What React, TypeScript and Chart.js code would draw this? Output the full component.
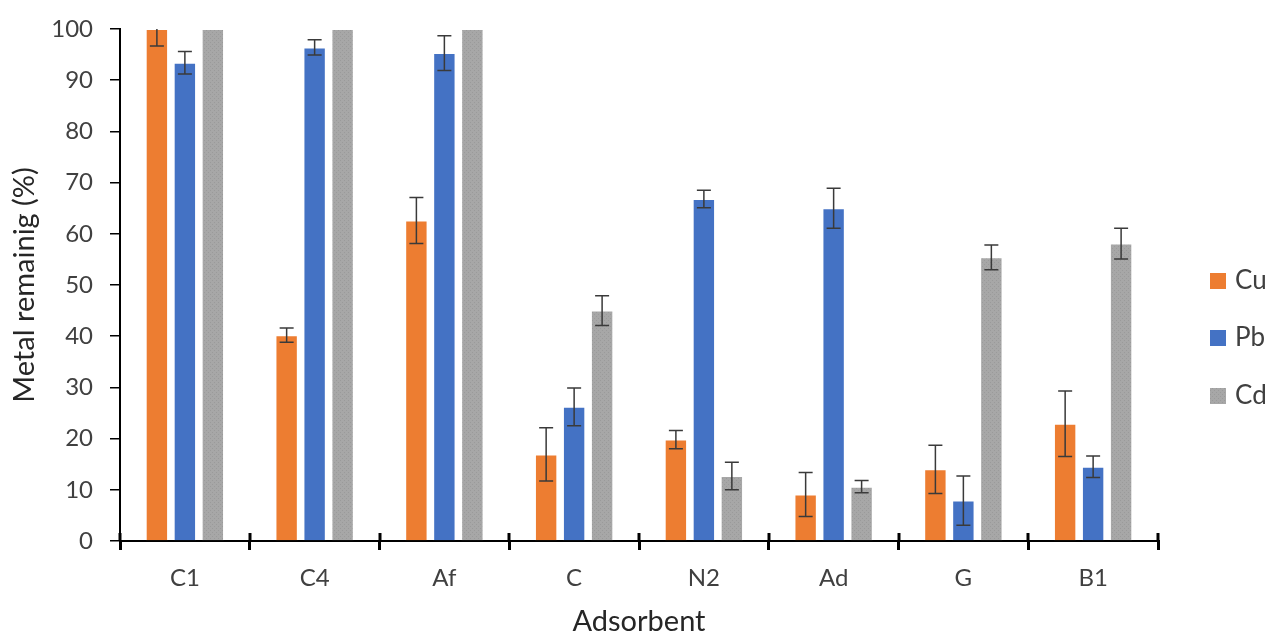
import React, { useEffect, useRef } from "react";
import { Chart, registerables } from "chart.js";

Chart.register(...registerables);

const categories = ["C1", "C4", "Af", "C", "N2", "Ad", "G", "B1"];
const seriesNames = ["Cu", "Pb", "Cd"];
const cuValues = [100, 40.2, 62.6, 16.9, 19.8, 9.1, 14.0, 22.9];
const cuErrors = [3.3, 1.4, 4.5, 5.2, 1.8, 4.3, 4.7, 6.4];
const pbValues = [93.4, 96.4, 95.3, 26.2, 66.8, 65.0, 7.9, 14.5];
const pbErrors = [2.2, 1.5, 3.4, 3.7, 1.7, 3.9, 4.8, 2.1];
const cdValues = [100, 100, 100, 45.0, 12.7, 10.6, 55.4, 58.1];
const cdErrors = [0, 0, 0, 2.9, 2.7, 1.2, 2.4, 3.0];

const FONT = "Lato";
const TEXT = "#404040";

function makeGrayPattern(): CanvasPattern | string {
  const c = document.createElement("canvas");
  c.width = 4;
  c.height = 4;
  const g = c.getContext("2d");
  if (!g) return "#A5A5A5";
  g.fillStyle = "#A7A7A7";
  g.fillRect(0, 0, 4, 4);
  g.fillStyle = "#9A9A9A";
  g.fillRect(0, 0, 1, 1);
  g.fillRect(2, 2, 1, 1);
  const p = g.createPattern(c, "repeat");
  return p || "#A5A5A5";
}

export default function App() {
  const ref = useRef<HTMLCanvasElement | null>(null);

  useEffect(() => {
    if (!ref.current) return;
    const gray = makeGrayPattern();
    const colors: any[] = ["#ED7D31", "#4472C4", gray];
    const errors = [cuErrors, pbErrors, cdErrors];

    const errorBars = {
      id: "errorBars",
      afterDatasetsDraw(chart: any) {
        const ctx = chart.ctx;
        const ys = chart.scales.y;
        const a = chart.chartArea;
        ctx.save();
        ctx.beginPath();
        ctx.rect(a.left, a.top, a.right - a.left, a.bottom - a.top);
        ctx.clip();
        ctx.strokeStyle = "#3a3a3a";
        ctx.lineWidth = 1.5;
        chart.data.datasets.forEach((ds: any, di: number) => {
          const meta = chart.getDatasetMeta(di);
          meta.data.forEach((bar: any, i: number) => {
            const e = errors[di][i];
            if (!e) return;
            const v = ds.data[i];
            const x = bar.x;
            const yt = ys.getPixelForValue(v + e);
            const yb = ys.getPixelForValue(v - e);
            ctx.beginPath();
            ctx.moveTo(x, yt);
            ctx.lineTo(x, yb);
            ctx.moveTo(x - 7, yt);
            ctx.lineTo(x + 7, yt);
            ctx.moveTo(x - 7, yb);
            ctx.lineTo(x + 7, yb);
            ctx.stroke();
          });
        });
        ctx.restore();
      },
    };

    const axisTicks = {
      id: "axisTicks",
      afterDraw(chart: any) {
        const ctx = chart.ctx;
        const xs = chart.scales.x;
        const n = categories.length;
        const step = (xs.right - xs.left) / n;
        ctx.save();
        ctx.strokeStyle = "#000";
        ctx.lineWidth = 3;
        for (let i = 0; i <= n; i++) {
          const x = Math.round(xs.left + i * step);
          ctx.beginPath();
          ctx.moveTo(x, xs.top - 8);
          ctx.lineTo(x, xs.top);
          ctx.stroke();
        }
        ctx.restore();
      },
    };

    const legendPlugin = {
      id: "customLegend",
      afterDraw(chart: any) {
        const ctx = chart.ctx;
        const ys = [281, 338, 396];
        ctx.save();
        ctx.font = `26px ${FONT}`;
        ctx.textBaseline = "middle";
        ctx.textAlign = "left";
        seriesNames.forEach((name, i) => {
          ctx.fillStyle = colors[i];
          ctx.fillRect(1210, ys[i] - 8, 16, 16);
          ctx.fillStyle = TEXT;
          ctx.fillText(name, 1235, ys[i]);
        });
        ctx.restore();
      },
    };

    const chart = new Chart(ref.current, {
      type: "bar",
      data: {
        labels: categories,
        datasets: [
          { label: seriesNames[0], data: cuValues, backgroundColor: colors[0], borderColor: "rgba(255,255,255,0.45)", borderWidth: 1 },
          { label: seriesNames[1], data: pbValues, backgroundColor: colors[1], borderColor: "rgba(255,255,255,0.45)", borderWidth: 1 },
          { label: seriesNames[2], data: cdValues, backgroundColor: colors[2], borderColor: "rgba(255,255,255,0.45)", borderWidth: 1 },
        ],
      },
      options: {
        responsive: false,
        animation: false,
        layout: { padding: { top: 29, right: 114, bottom: 0, left: 0 } },
        datasets: { bar: { categoryPercentage: 0.647, barPercentage: 0.8 } },
        plugins: {
          legend: { display: false },
          tooltip: { enabled: false },
        },
        scales: {
          x: {
            afterFit: (s: any) => {
              s.height = 95;
            },
            grid: {
              display: true,
              drawOnChartArea: false,
              offset: true,
              tickLength: 9,
              lineWidth: 3,
              color: "#000",
            },
            border: { display: true, color: "#000", width: 2 },
            ticks: { color: TEXT, font: { family: FONT, size: 24 }, padding: 14 },
            title: {
              display: true,
              text: "Adsorbent",
              color: "#262626",
              font: { family: FONT, size: 29, lineHeight: 1 },
              padding: { top: 0, bottom: 0 },
            },
          },
          y: {
            min: 0,
            max: 100,
            afterFit: (s: any) => {
              s.width = 120;
              s.paddingTop = 0;
              s.paddingBottom = 0;
            },
            ticks: { stepSize: 10, color: TEXT, font: { family: FONT, size: 24 }, padding: 17 },
            grid: {
              display: true,
              drawOnChartArea: false,
              tickLength: 10,
              lineWidth: 1.5,
              color: "#000",
            },
            border: { display: true, color: "#000", width: 2 },
            title: {
              display: true,
              text: "Metal remainig (%)",
              color: "#262626",
              font: { family: FONT, size: 29 },
              padding: { top: 7, bottom: 0 },
            },
          },
        },
      },
      plugins: [errorBars, axisTicks, legendPlugin],
    });
    return () => chart.destroy();
  }, []);

  return (
    <div style={{ position: "absolute", left: 0, top: 0, width: 1272, height: 636, background: "#fff" }}>
      <canvas ref={ref} width={1272} height={636} />
    </div>
  );
}
